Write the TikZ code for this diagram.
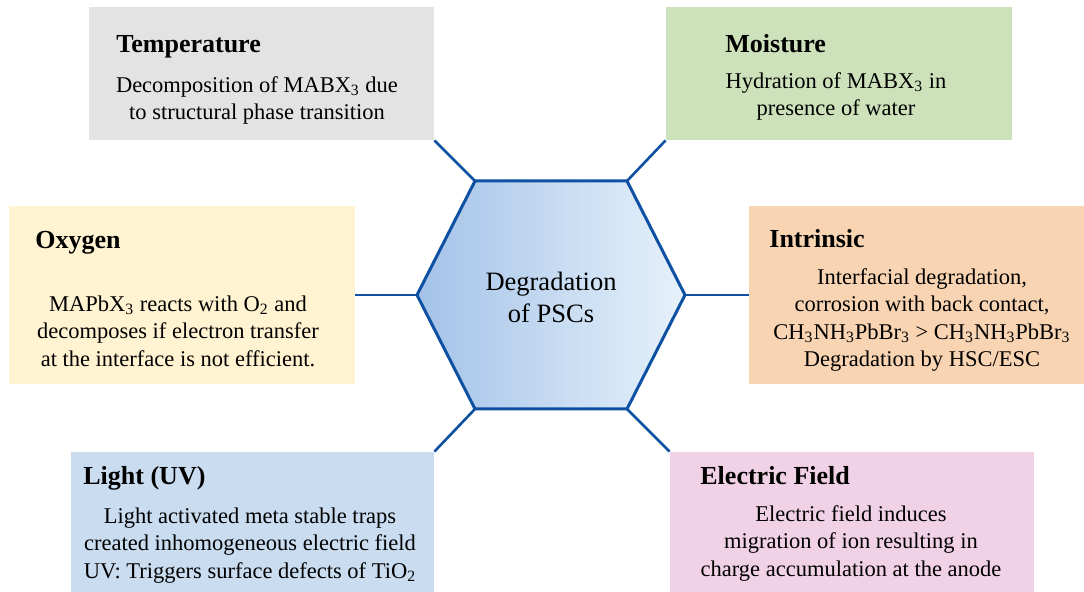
\documentclass[tikz,border=0pt]{standalone}
\usepackage{fontspec}
\setmainfont{Liberation Serif}
\usetikzlibrary{fit,positioning}

\definecolor{tempgray}{RGB}{227,227,227}
\definecolor{moistgreen}{RGB}{205,226,187}
\definecolor{oxyellow}{RGB}{255,243,209}
\definecolor{intorange}{RGB}{248,212,179}
\definecolor{lightblue}{RGB}{202,220,240}
\definecolor{fieldpink}{RGB}{241,209,229}
\definecolor{linkblue}{RGB}{14,80,162}
\definecolor{hexleft}{RGB}{164,194,232}
\definecolor{hexright}{RGB}{230,242,251}

\begin{document}
\begin{tikzpicture}[
    x=0.5pt, y=-0.5pt,
    factor/.style={rectangle, inner sep=0pt, draw=none},
    heading/.style={anchor=base west, inner sep=0pt, font=\fontsize{13}{15}\selectfont\bfseries},
    detail/.style={anchor=north, inner sep=0pt, align=center, font=\fontsize{11.25}{13.75}\selectfont},
    link/.style={draw=linkblue, line width=1.3pt},
    hexagon/.style={draw=linkblue, line width=1.5pt, line join=miter, left color=hexleft, right color=hexright}
]
\useasboundingbox (0,0) rectangle (1084,592);

% Factor boxes
\node[factor, fill=tempgray, fit={(89,7)(434,140)}] (temp-box) {};
\node[factor, fill=moistgreen, fit={(666,7)(1012,140)}] (moist-box) {};
\node[factor, fill=oxyellow, fit={(9,206)(355,384)}] (oxy-box) {};
\node[factor, fill=intorange, fit={(749,206)(1084,384)}] (int-box) {};
\node[factor, fill=lightblue, fit={(71,452)(434,592)}] (uv-box) {};
\node[factor, fill=fieldpink, fit={(670,452)(1034,592)}] (field-box) {};

% Headings
\node[heading] (temp-title) at (116,53) {Temperature};
\node[heading] (moist-title) at (725,53) {Moisture};
\node[heading] (oxy-title) at (35,249) {Oxygen};
\node[heading] (int-title) at (769,248) {Intrinsic};
\node[heading] (uv-title) at (83,485) {Light (UV)};
\node[heading] (field-title) at (700,485) {Electric Field};

% Descriptions
\node[detail] (temp-text) at (257,76) {Decomposition of MABX\textsubscript{3} due\\to structural phase transition};
\node[detail] (moist-text) at (836,72) {Hydration of MABX\textsubscript{3} in\\presence of water};
\node[detail] (oxy-text) at (178,295) {MAPbX\textsubscript{3} reacts with O\textsubscript{2} and\\decomposes if electron transfer\\at the interface is not efficient.};
\node[detail] (int-text) at (922,268) {Interfacial degradation,\\corrosion with back contact,\\CH\textsubscript{3}NH\textsubscript{3}PbBr\textsubscript{3} > CH\textsubscript{3}NH\textsubscript{3}PbBr\textsubscript{3}\\Degradation by HSC/ESC};
\node[detail] (uv-text) at (250,507) {Light activated meta stable traps\\created inhomogeneous electric field\\UV: Triggers surface defects of TiO\textsubscript{2}};
\node[detail] (field-text) at (851,505) {Electric field induces\\migration of ion resulting in\\charge accumulation at the anode};

% Hexagon corners
\coordinate (hex-w) at (417,295);
\coordinate (hex-nw) at (475,181);
\coordinate (hex-ne) at (627,181);
\coordinate (hex-e) at (685,295);
\coordinate (hex-se) at (627,409);
\coordinate (hex-sw) at (475,409);

% Connectors
\draw[link] (hex-nw) -- (temp-box.south east);
\draw[link] (hex-ne) -- (moist-box.south west);
\draw[link] (hex-w) -- (oxy-box.east |- hex-w);
\draw[link] (hex-e) -- (int-box.west |- hex-e);
\draw[link] (hex-sw) -- (uv-box.north east);
\draw[link] (hex-se) -- (field-box.north west);

% Central hexagon
\path[hexagon] (hex-w) -- (hex-nw) -- (hex-ne) -- (hex-e) -- (hex-se) -- (hex-sw) -- cycle;
\node[align=center, font=\fontsize{13.25}{16}\selectfont] (hex-label) at (551,297) {Degradation\\of PSCs};

\end{tikzpicture}
\end{document}
